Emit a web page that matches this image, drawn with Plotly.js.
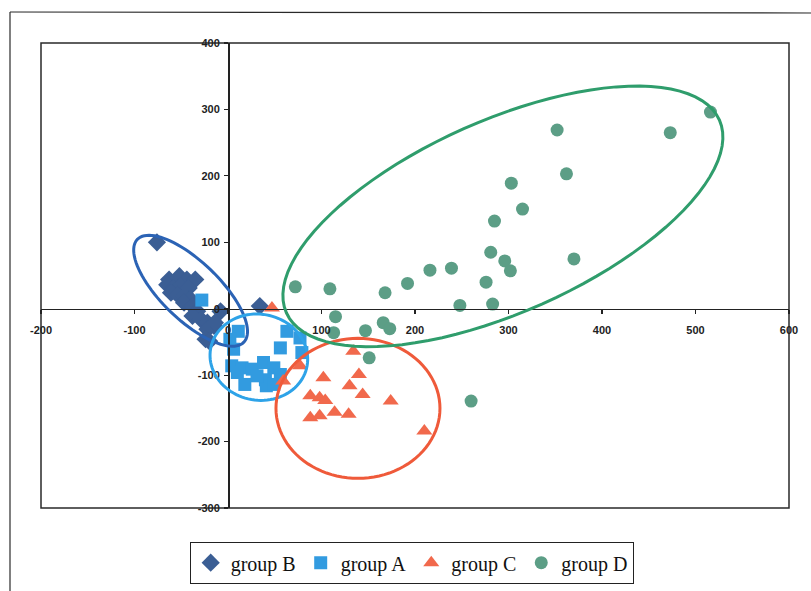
<!DOCTYPE html>
<html>
<head>
<meta charset="utf-8">
<script src="https://cdn.plot.ly/plotly-3.0.1.min.js"></script>
<style>html,body{margin:0;padding:0;background:#fff;}#chart{width:811px;height:591px;}</style>
</head>
<body>
<div id="chart"></div>
<script>
// ---- data ----
var groupBx = [-76,-63,-52,-44,-35,-65,-58,-51,-42,-61,-54,-47,-40,-47,-38,-33,-38,-29,-22,-15,-22,-8,-24,-14,-20,34];
var groupBy = [100,44,49,44,44,36,31,34,31,24,21,19,14,9,4,-4,-11,-16,-21,-26,-31,-4,-46,-21,-49,4];

var groupAx = [-28,11,2,6,63,77,79,56,4,15,26,38,49,56,18,40,41,49,31,10];
var groupAy = [13,-34,-46,-61,-34,-44,-66,-59,-86,-89,-91,-81,-89,-99,-114,-107,-116,-114,-101,-96];

var groupCx = [47,134,77,59,102,140,130,144,88,98,104,174,88,98,114,129,210];
var groupCy = [1,-64,-86,-109,-104,-99,-116,-129,-131,-134,-138,-139,-164,-161,-156,-159,-184];

var groupDx = [516,473,352,362,303,315,285,370,281,296,302,239,216,192,168,276,248,283,109,72,115,113,147,166,173,151,260];
var groupDy = [296,265,269,203,189,150,132,75,85,72,57,61,58,38,24,40,5,7,30,33,-12,-36,-33,-21,-30,-74,-139];

var seriesNames = ['group B','group A','group C','group D'];
var xTickVals = [-200,-100,0,100,200,300,400,500,600];
var xTickText = ['-200','-100','0','100','200','300','400','500','600'];
var yTickVals = [-300,-200,-100,0,100,200,300,400];
var yTickText = ['-300','-200','-100','0','100','200','300','400'];

// hand-drawn cluster ellipses: centre (data), semi-axes (px), angle (deg)
var ellCx = [-40, 33, 139, 294];
var ellCy = [27, -73, -150, 139];
var ellA = [74, 49, 82, 237];
var ellB = [29, 43, 70, 96];
var ellAng = [-44, -10, 0, 24];
var ellColor = ['#2b63b5', '#2ea3e8', '#ef5a3a', '#2f9d6c'];

// ---- chart ----
var xRange = [-200, 600], yRange = [-300, 400];
var W = 811, H = 591, mL = 41, mR = 22, mT = 43, mB = 83;
var kx = (W - mL - mR) / (xRange[1] - xRange[0]);
var ky = (H - mT - mB) / (yRange[1] - yRange[0]);

function ellipsePath(i) {
  var th = ellAng[i] * Math.PI / 180, p = '';
  for (var k = 0; k <= 96; k++) {
    var t = 2 * Math.PI * k / 96;
    var sx = ellA[i] * Math.cos(t) * Math.cos(th) - ellB[i] * Math.sin(t) * Math.sin(th);
    var sy = ellA[i] * Math.cos(t) * Math.sin(th) + ellB[i] * Math.sin(t) * Math.cos(th);
    var x = ellCx[i] + sx / kx, y = ellCy[i] + sy / ky;
    p += (k === 0 ? 'M' : 'L') + x.toFixed(2) + ',' + y.toFixed(2);
  }
  return p + 'Z';
}

var traces = [
  {x: groupBx, y: groupBy, name: seriesNames[0], type: 'scatter', mode: 'markers',
   marker: {symbol: 'diamond', size: 14, color: '#3b5e94'}},
  {x: groupAx, y: groupAy, name: seriesNames[1], type: 'scatter', mode: 'markers',
   marker: {symbol: 'square', size: 13, color: '#329be0'}},
  {x: groupCx, y: groupCy, name: seriesNames[2], type: 'scatter', mode: 'markers',
   marker: {symbol: 'triangle-up', size: 14, color: '#f1694c'}},
  {x: groupDx, y: groupDy, name: seriesNames[3], type: 'scatter', mode: 'markers',
   marker: {symbol: 'circle', size: 13, color: '#5c9e86'}}
];

var shapes = [];
for (var i = 0; i < ellCx.length; i++) {
  shapes.push({type: 'path', xref: 'x', yref: 'y', path: ellipsePath(i),
    line: {color: ellColor[i], width: 3}, layer: 'above'});
}
// plot-area frame
shapes.push({type: 'rect', xref: 'paper', yref: 'paper', x0: 0, x1: 1, y0: 0, y1: 1,
  line: {color: '#2a2a2a', width: 1.5}, layer: 'below'});
// outer chart frame (top and left edges visible)
var pxX = function (px) { return (px - mL) / (W - mL - mR); };
var pxY = function (py) { return (H - mB - py) / (H - mT - mB); };
shapes.push({type: 'line', xref: 'paper', yref: 'paper', x0: pxX(10), x1: pxX(811), y0: pxY(12), y1: pxY(13),
  line: {color: '#2a2a2a', width: 1.2}});
shapes.push({type: 'line', xref: 'paper', yref: 'paper', x0: pxX(10), x1: pxX(10), y0: pxY(12), y1: pxY(591),
  line: {color: '#2a2a2a', width: 1.2}});

var tickFont = {family: 'Liberation Sans, Arial, sans-serif', size: 11, color: '#222', weight: 'bold'};

var layout = {
  width: W, height: H,
  margin: {l: mL, r: mR, t: mT, b: mB, pad: 0, autoexpand: false},
  paper_bgcolor: '#ffffff', plot_bgcolor: '#ffffff',
  showlegend: true,
  xaxis: {range: xRange, anchor: 'free', position: (0 - yRange[0]) / (yRange[1] - yRange[0]),
    tickvals: xTickVals, ticktext: xTickText, ticks: 'outside', ticklen: 4, tickwidth: 1.2,
    tickcolor: '#222', showline: true, linecolor: '#222', linewidth: 1.5, ticklabelstandoff: 7,
    showgrid: false, zeroline: false, tickfont: tickFont, fixedrange: true, automargin: false},
  yaxis: {range: yRange, anchor: 'free', position: (0 - xRange[0]) / (xRange[1] - xRange[0]),
    tickvals: yTickVals, ticktext: yTickText, ticks: 'outside', ticklen: 4, tickwidth: 1.2,
    tickcolor: '#222', showline: true, linecolor: '#222', linewidth: 1.5, ticklabelstandoff: 2,
    showgrid: false, zeroline: false, tickfont: tickFont, fixedrange: true, automargin: false},
  legend: {orientation: 'h', x: pxX(412), xanchor: 'center', y: pxY(542), yanchor: 'top',
    bordercolor: '#222', borderwidth: 1.2, bgcolor: '#ffffff',
    font: {family: 'Liberation Serif, Times New Roman, serif', size: 20, color: '#111'},
    itemclick: false, itemdoubleclick: false},
  shapes: shapes
};

Plotly.newPlot('chart', traces, layout, {displayModeBar: false, staticPlot: true});
</script>
</body>
</html>
